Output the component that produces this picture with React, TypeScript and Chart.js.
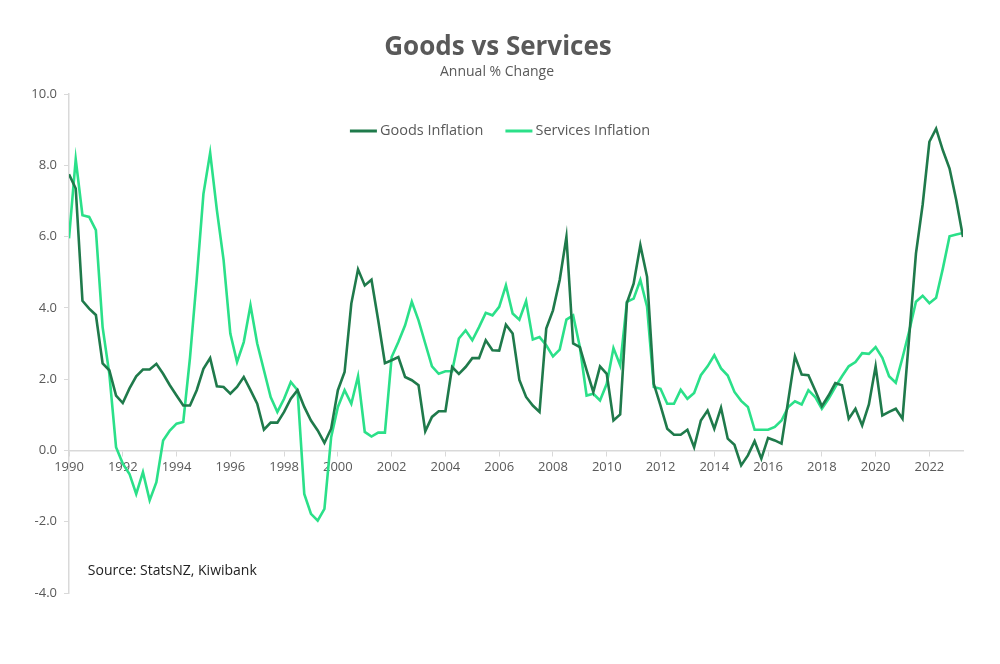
import { useEffect, useRef } from "react";
import { Chart, registerables } from "chart.js";

Chart.register(...registerables);

// ---- Data (quarterly, starting 1990 Q1) ----
const startYear = 1990;
const periodsPerYear = 4;

const goodsInflation = [
  7.75, 7.35, 4.2, 3.98, 3.8, 2.44, 2.25, 1.54, 1.33, 1.74,
  2.08, 2.27, 2.27, 2.43, 2.15, 1.83, 1.54, 1.26, 1.26, 1.69,
  2.29, 2.59, 1.8, 1.78, 1.59, 1.78, 2.06, 1.69, 1.31, 0.58,
  0.78, 0.78, 1.08, 1.45, 1.69, 1.22, 0.84, 0.56, 0.21, 0.61,
  1.69, 2.2, 4.12, 5.08, 4.63, 4.79, 3.65, 2.45, 2.53, 2.62,
  2.06, 1.97, 1.83, 0.54, 0.94, 1.1, 1.1, 2.34, 2.15, 2.34,
  2.59, 2.59, 3.09, 2.81, 2.8, 3.53, 3.28, 1.98, 1.5, 1.26,
  1.08, 3.42, 3.93, 4.78, 5.99, 3.0, 2.9, 2.25, 1.64, 2.36,
  2.15, 0.84, 1.01, 4.14, 4.68, 5.76, 4.87, 1.87, 1.26, 0.61,
  0.44, 0.44, 0.58, 0.09, 0.84, 1.12, 0.61, 1.2, 0.33, 0.16,
  -0.42, -0.14, 0.26, -0.23, 0.35, 0.28, 0.19, 1.4, 2.64, 2.13,
  2.11, 1.69, 1.24, 1.54, 1.89, 1.83, 0.89, 1.17, 0.7, 1.29,
  2.36, 0.98, 1.08, 1.17, 0.89, 3.2, 5.52, 6.9, 8.66, 9.03,
  8.42, 7.91, 7.02, 5.99,
];

const servicesInflation = [
  5.95, 8.17, 6.6, 6.55, 6.18, 3.46, 2.15, 0.09, -0.37, -0.66,
  -1.22, -0.61, -1.4, -0.89, 0.28, 0.56, 0.75, 0.8, 2.6, 4.8,
  7.2, 8.35, 6.74, 5.34, 3.28, 2.48, 3.04, 4.07, 3.0, 2.25,
  1.5, 1.08, 1.45, 1.92, 1.69, -1.22, -1.78, -1.97, -1.64, 0.37,
  1.22, 1.69, 1.31, 2.08, 0.52, 0.39, 0.5, 0.5, 2.62, 3.04,
  3.51, 4.17, 3.65, 3.0, 2.36, 2.15, 2.22, 2.22, 3.14, 3.37,
  3.09, 3.46, 3.86, 3.79, 4.03, 4.63, 3.84, 3.67, 4.19, 3.11,
  3.18, 2.95, 2.64, 2.83, 3.67, 3.79, 2.9, 1.54, 1.59, 1.4,
  1.87, 2.87, 2.39, 4.17, 4.26, 4.78, 4.03, 1.78, 1.73, 1.31,
  1.31, 1.7, 1.45, 1.61, 2.11, 2.36, 2.67, 2.3, 2.1, 1.64,
  1.39, 1.22, 0.58, 0.58, 0.58, 0.66, 0.84, 1.22, 1.38, 1.29,
  1.69, 1.5, 1.17, 1.45, 1.78, 2.08, 2.36, 2.48, 2.73, 2.71,
  2.9, 2.6, 2.08, 1.9, 2.6, 3.35, 4.17, 4.34, 4.13, 4.28,
  5.1, 6.01, 6.06, 6.1,
];

const xTickYears = [1990, 1992, 1994, 1996, 1998, 2000, 2002, 2004, 2006, 2008, 2010, 2012, 2014, 2016, 2018, 2020, 2022];
const yTickValues = [10, 8, 6, 4, 2, 0, -2, -4];

const seriesLabels = ["Goods Inflation", "Services Inflation"];
const seriesColors = ["#1F7A4B", "#2BE089"];

const chartTitle = "Goods vs Services";
const chartSubtitle = "Annual % Change";
const sourceNote = "Source: StatsNZ, Kiwibank";
const sourceAt = { x: 1990.7, y: -3.37 };

const FONT = "'Open Sans', 'DejaVu Sans', sans-serif";
const TEXT_GREY = "#595959";
const AXIS_GREY = "#D9D9D9";

const toPoints = (values: number[]) =>
  values.map((v, i) => ({ x: startYear + i / periodsPerYear, y: v }));

const overlayPlugin = {
  id: "overlayText",
  afterDraw(chart: any) {
    const ctx = chart.ctx as CanvasRenderingContext2D;
    const { scales } = chart;
    ctx.save();
    // Title & subtitle
    ctx.textAlign = "center";
    ctx.textBaseline = "middle";
    ctx.fillStyle = TEXT_GREY;
    ctx.font = `bold 26px ${FONT}`;
    ctx.fillText(chartTitle, 498, 48);
    ctx.font = `14px ${FONT}`;
    ctx.fillText(chartSubtitle, 497, 72);

    // Legend (inside plot, centered)
    ctx.font = `14.5px ${FONT}`;
    const lineLen = 27;
    const lineGap = 3;
    const itemGap = 22;
    const widths = seriesLabels.map((l) => ctx.measureText(l).width);
    const total = widths.reduce((a, w) => a + lineLen + lineGap + w, 0) + itemGap * (seriesLabels.length - 1);
    let x = 500 - total / 2;
    const ly = 131;
    seriesLabels.forEach((label, i) => {
      ctx.strokeStyle = seriesColors[i];
      ctx.lineWidth = 3;
      ctx.beginPath();
      ctx.moveTo(x, ly);
      ctx.lineTo(x + lineLen, ly);
      ctx.stroke();
      ctx.fillStyle = TEXT_GREY;
      ctx.textAlign = "left";
      ctx.fillText(label, x + lineLen + lineGap, ly);
      x += lineLen + lineGap + widths[i] + itemGap;
    });

    // Source note
    ctx.font = `14px ${FONT}`;
    ctx.fillStyle = "#222222";
    ctx.textAlign = "left";
    ctx.fillText(sourceNote, scales.x.getPixelForValue(sourceAt.x), scales.y.getPixelForValue(sourceAt.y));
    ctx.restore();
  },
};

export default function App() {
  const canvasRef = useRef<HTMLCanvasElement | null>(null);

  useEffect(() => {
    document.body.style.margin = "0";
    const canvas = canvasRef.current;
    if (!canvas) return;
    const chart = new Chart(canvas, {
      type: "line",
      data: {
        datasets: [
          {
            label: seriesLabels[0],
            data: toPoints(goodsInflation),
            borderColor: seriesColors[0],
            backgroundColor: seriesColors[0],
            borderWidth: 2.6,
            pointRadius: 0,
            tension: 0,
          },
          {
            label: seriesLabels[1],
            data: toPoints(servicesInflation),
            borderColor: seriesColors[1],
            backgroundColor: seriesColors[1],
            borderWidth: 2.6,
            pointRadius: 0,
            tension: 0,
          },
        ],
      },
      options: {
        responsive: false,
        animation: false,
        layout: { padding: { top: 94, left: 0, right: 37, bottom: 71 } },
        plugins: {
          legend: { display: false },
          title: { display: false },
          tooltip: { enabled: false },
        },
        scales: {
          x: {
            type: "linear",
            position: { y: 0 } as any,
            min: startYear,
            max: startYear + (goodsInflation.length - 1) / periodsPerYear,
            afterBuildTicks: (s: any) => {
              s.ticks = xTickYears.map((v) => ({ value: v }));
            },
            grid: { drawOnChartArea: false, drawTicks: true, tickLength: 5, color: AXIS_GREY },
            border: { display: true, color: AXIS_GREY, width: 1.5 },
            ticks: {
              autoSkip: false,
              maxRotation: 0,
              padding: 4,
              color: TEXT_GREY,
              font: { family: FONT, size: 13 },
              callback: (v: any) => String(v),
            },
          },
          y: {
            type: "linear",
            min: -4,
            max: 10,
            afterBuildTicks: (s: any) => {
              s.ticks = yTickValues.map((v) => ({ value: v }));
            },
            afterFit: (s: any) => {
              s.width = 69;
            },
            grid: { drawOnChartArea: false, drawTicks: true, tickLength: 5, color: AXIS_GREY },
            border: { display: true, color: AXIS_GREY, width: 1.5 },
            ticks: {
              padding: 7,
              color: TEXT_GREY,
              font: { family: FONT, size: 13 },
              callback: (v: any) => Number(v).toFixed(1),
            },
          },
        },
      },
      plugins: [overlayPlugin],
    });
    return () => chart.destroy();
  }, []);

  return (
    <div style={{ width: 1000, height: 664, background: "#fff" }}>
      <canvas ref={canvasRef} width={1000} height={664} style={{ display: "block" }} />
    </div>
  );
}
